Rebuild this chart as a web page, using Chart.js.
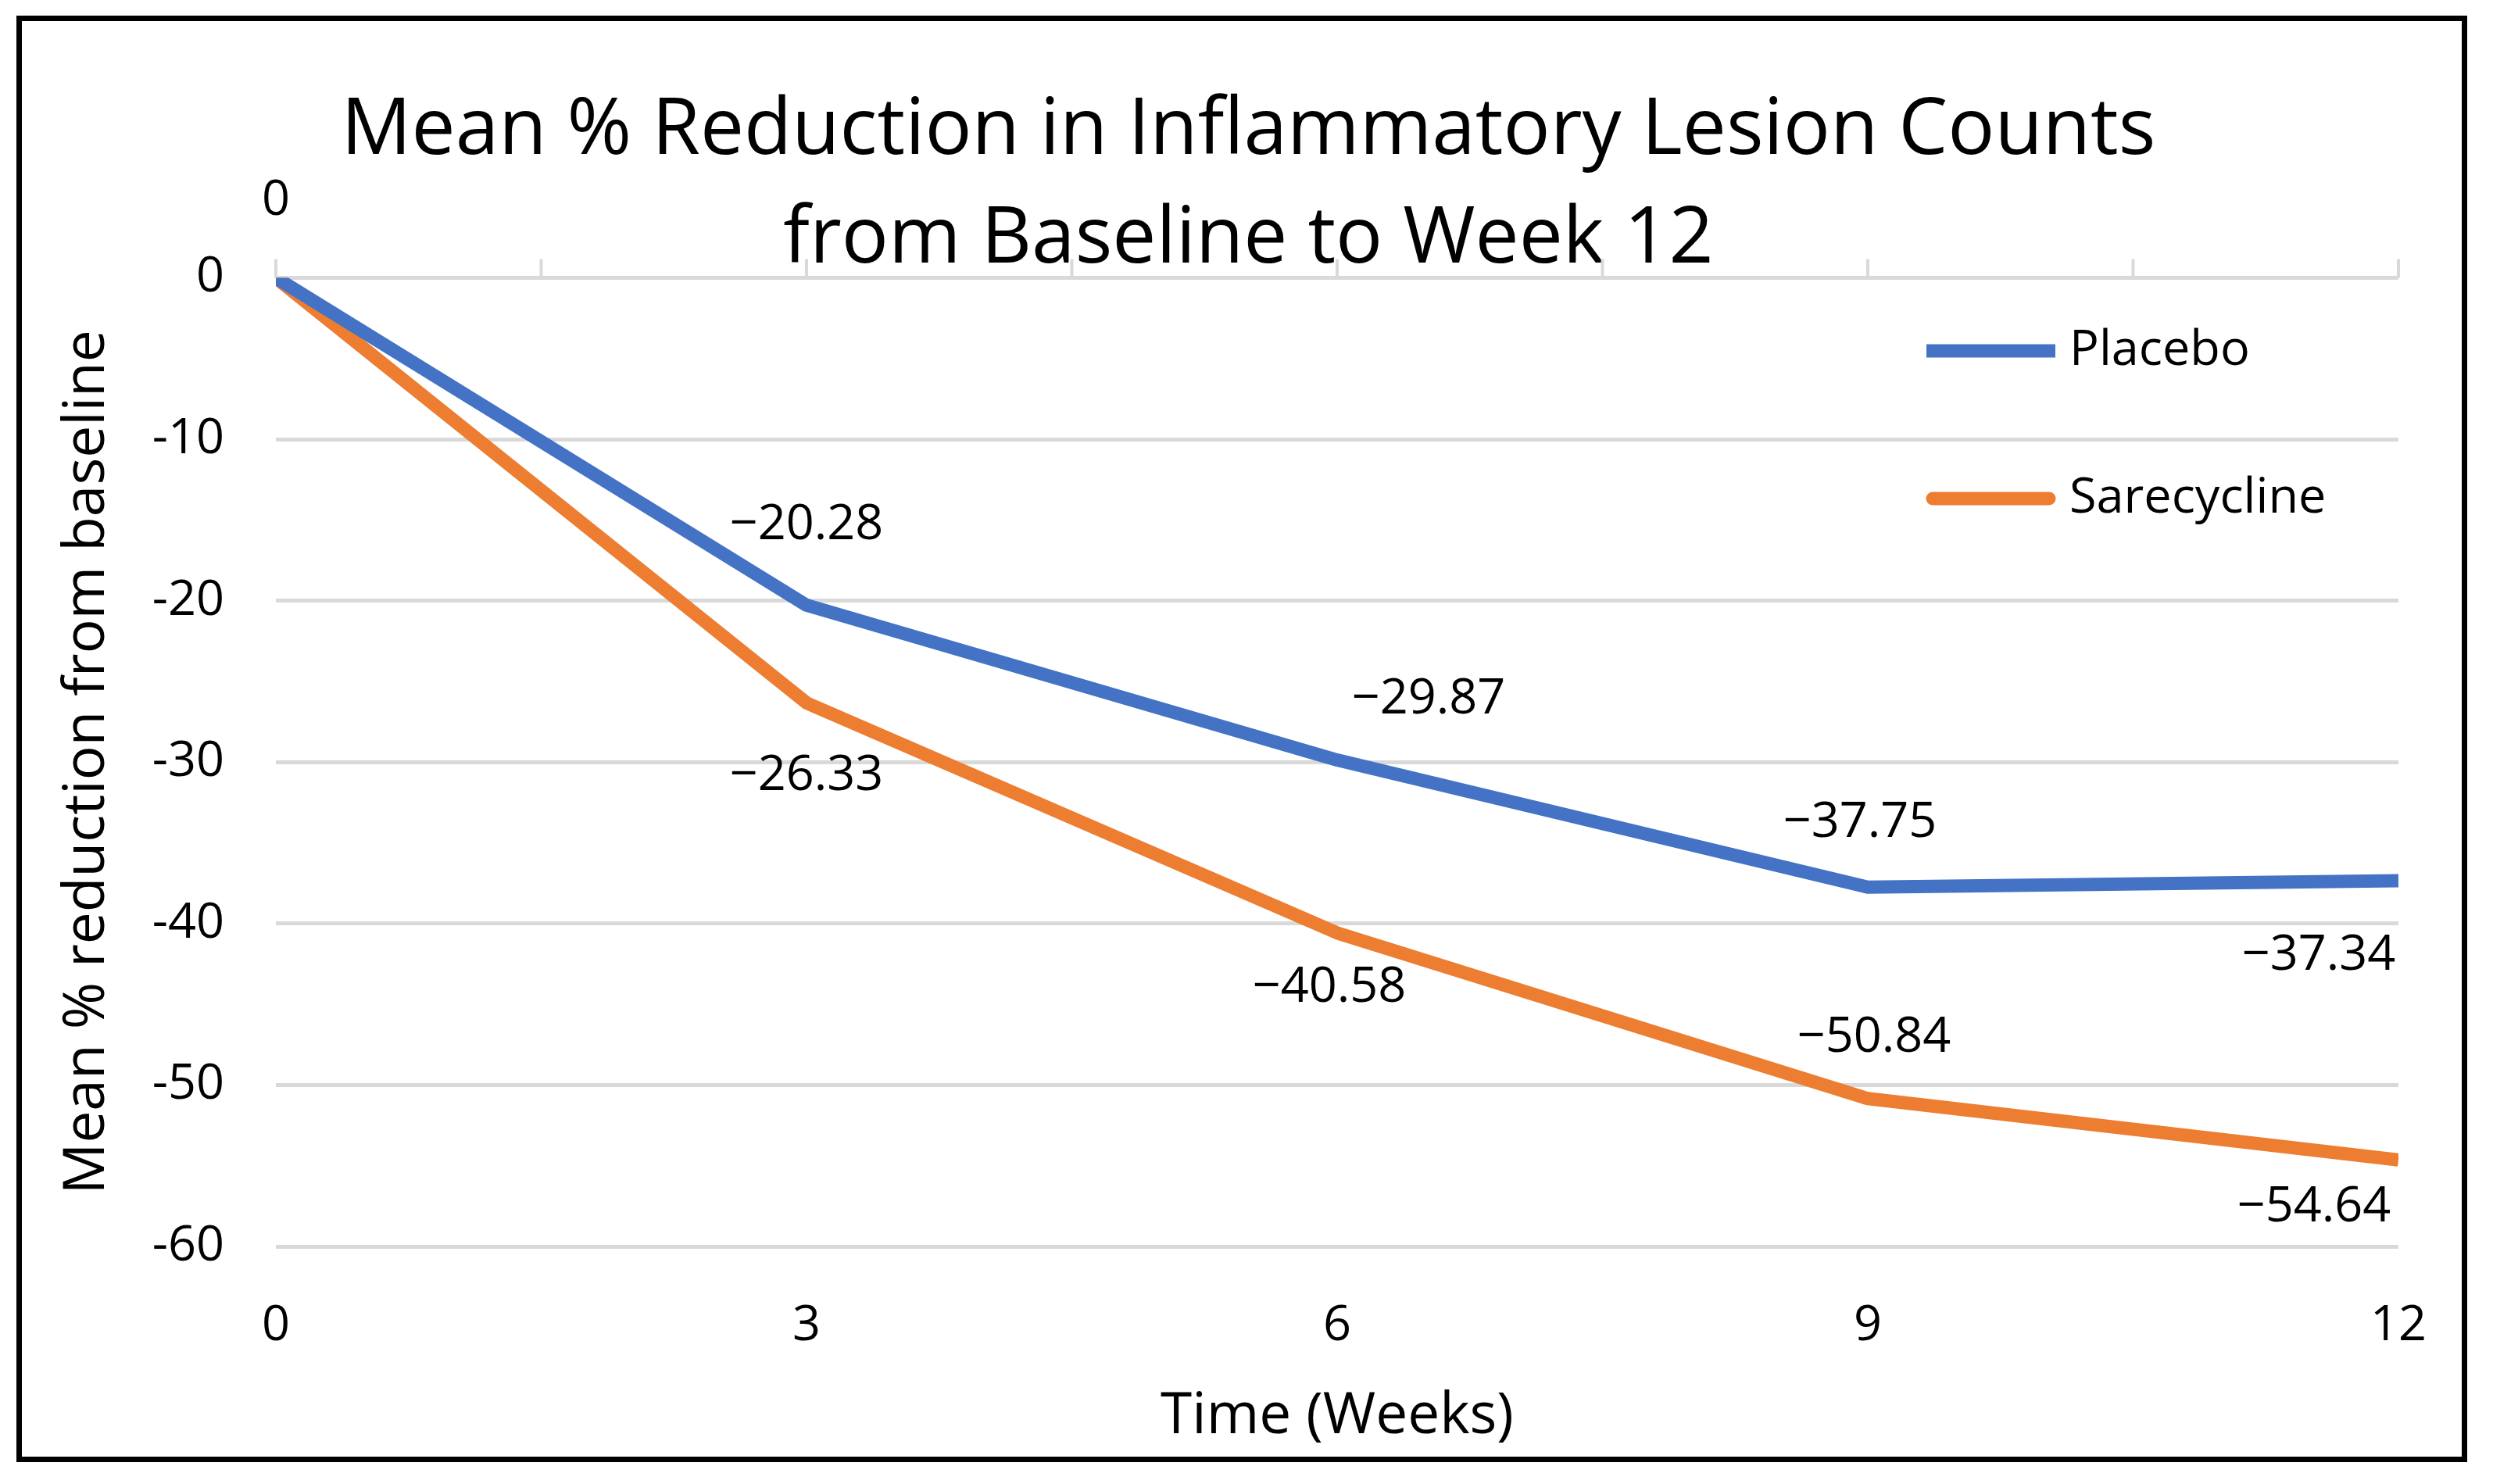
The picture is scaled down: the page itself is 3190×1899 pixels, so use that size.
<!DOCTYPE html>
<html>
<head>
<meta charset="utf-8">
<script src="https://cdn.jsdelivr.net/npm/chart.js@4.4.0/dist/chart.umd.min.js"></script>
<style>
  html, body { margin: 0; padding: 0; background: #fff; }
</style>
</head>
<body>
<canvas id="myChart" width="3190" height="1899"></canvas>
<script>
const weeks = [0, 3, 6, 9, 12];
const placebo = [0, -20.28, -29.87, -37.75, -37.34];
const sarecycline = [0, -26.33, -40.58, -50.84, -54.64];
const yTicks = [0, -10, -20, -30, -40, -50, -60];
const xTicks = [0, 3, 6, 9, 12];
const xTickMarks = [0, 1.5, 3, 4.5, 6, 7.5, 9, 10.5, 12]; // little marks on the zero line

// where each value label sits, relative to its point (px)
const placeboLabelOffset = [[0, -98], [0, -102], [117, -78], [-10, -82], [-102, 96]];
const sareLabelOffset = [null, [0, 94], [-10, 70], [8, -78], [-108, 61]];

const FONT = "'Open Sans', sans-serif";
Chart.defaults.font.family = FONT;
Chart.defaults.color = '#000';

const toPoints = (vals) => vals.map((v, i) => ({ x: weeks[i], y: v }));
const fmt = (v) => v === 0 ? '0' : (v < 0 ? '\u2212' : '') + Math.abs(v).toFixed(2);

// outer black frame
const framePlugin = {
    id: 'frame',
    afterDraw(chart) {
        const c = chart.ctx;
        c.save();
        c.strokeStyle = '#000';
        c.lineWidth = 7;
        c.strokeRect(24.5, 23.5, 3129, 1844);
        c.restore();
    }
};

// tick marks pointing up from the 0 line (excel style)
const zeroTicksPlugin = {
    id: 'zeroTicks',
    beforeDatasetsDraw(chart) {
        const c = chart.ctx;
        const xs = chart.scales.x, ys = chart.scales.y;
        const y0 = ys.getPixelForValue(0);
        c.save();
        c.strokeStyle = '#d9d9d9';
        c.lineWidth = 4;
        xTickMarks.forEach(v => {
            const px = xs.getPixelForValue(v);
            c.beginPath();
            c.moveTo(px, y0);
            c.lineTo(px, y0 - 24);
            c.stroke();
        });
        c.restore();
    }
};

// value labels
const valueLabelsPlugin = {
    id: 'valueLabels',
    afterDatasetsDraw(chart) {
        const c = chart.ctx;
        const offsets = [placeboLabelOffset, sareLabelOffset];
        c.save();
        c.font = '63px ' + FONT;
        c.fillStyle = '#000';
        c.textAlign = 'center';
        c.textBaseline = 'middle';
        chart.data.datasets.forEach((ds, di) => {
            const meta = chart.getDatasetMeta(di);
            meta.data.forEach((pt, i) => {
                const off = offsets[di][i];
                if (!off) return;
                c.fillText(fmt(ds.data[i].y), pt.x + off[0], pt.y + off[1]);
            });
        });
        c.restore();
    }
};

// legend drawn inside the plot, on the right
const sideLegendPlugin = {
    id: 'sideLegend',
    afterDraw(chart) {
        const c = chart.ctx;
        const rows = [449, 638];
        c.save();
        c.font = '63px ' + FONT;
        c.textAlign = 'left';
        c.textBaseline = 'middle';
        chart.data.datasets.forEach((ds, i) => {
            c.strokeStyle = ds.borderColor;
            c.lineWidth = 17;
            c.lineCap = i === 0 ? 'butt' : 'round';
            c.beginPath();
            c.moveTo(i === 0 ? 2465 : 2473, rows[i]);
            c.lineTo(i === 0 ? 2630 : 2622, rows[i]);
            c.stroke();
            c.fillStyle = '#000';
            c.fillText(ds.label, 2648, rows[i]);
        });
        c.restore();
    }
};

const ctx = document.getElementById('myChart');
new Chart(ctx, {
    type: 'line',
    data: {
        datasets: [{
            label: 'Placebo',
            data: toPoints(placebo),
            borderColor: '#4472C4',
            backgroundColor: '#4472C4',
            borderWidth: 17,
            pointRadius: 0,
            tension: 0,
            borderJoinStyle: 'round'
        }, {
            label: 'Sarecycline',
            data: toPoints(sarecycline),
            borderColor: '#ED7D31',
            backgroundColor: '#ED7D31',
            borderWidth: 17,
            pointRadius: 0,
            tension: 0,
            borderJoinStyle: 'round'
        }]
    },
    options: {
        responsive: false,
        devicePixelRatio: 1,
        animation: false,
        layout: {
            padding: { left: 126, right: 121, top: 0, bottom: 30 }
        },
        plugins: {
            legend: { display: false },
            tooltip: { enabled: false },
            title: {
                display: true,
                text: ['Mean % Reduction in Inflammatory Lesion Counts', 'from Baseline to Week 12'],
                color: '#000',
                font: { size: 100, weight: 'normal', lineHeight: 1.39 },
                padding: { top: 99.5, bottom: -22 }
            }
        },
        scales: {
            x: {
                type: 'linear',
                min: 0,
                max: 12,
                afterBuildTicks: (s) => { s.ticks = xTicks.map(v => ({ value: v })); },
                ticks: { padding: 56, font: { size: 63 }, color: '#000' },
                grid: { display: false },
                border: { display: false },
                title: {
                    display: true,
                    text: 'Time (Weeks)',
                    color: '#000',
                    font: { size: 73 },
                    padding: { top: 0, bottom: 12 }
                },
                afterFit: (s) => { s.height = 274; }
            },
            y: {
                min: -60,
                max: 0,
                afterBuildTicks: (s) => { s.ticks = yTicks.map(v => ({ value: v })); },
                ticks: { padding: 66, font: { size: 63 }, color: '#000' },
                grid: { color: '#d9d9d9', lineWidth: 5, drawTicks: false },
                border: { display: false },
                title: {
                    display: true,
                    text: 'Mean % reduction from baseline',
                    color: '#000',
                    font: { size: 73 },
                    padding: { top: -58, bottom: 0 }
                },
                afterFit: (s) => { s.width = 227; }
            }
        }
    },
    plugins: [framePlugin, zeroTicksPlugin, valueLabelsPlugin, sideLegendPlugin]
});
</script>
</body>
</html>
